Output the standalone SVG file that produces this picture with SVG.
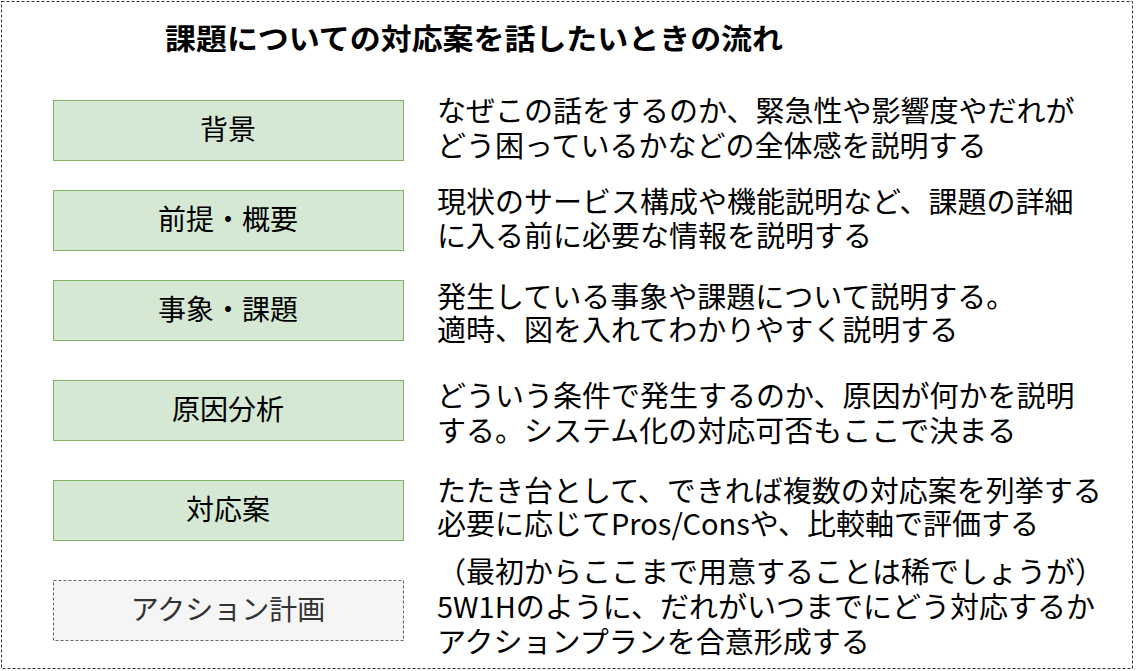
<svg xmlns="http://www.w3.org/2000/svg" width="1145" height="671" viewBox="0 0 1145 671">
<style>
text{font-family:"Noto Sans CJK JP","Noto Sans",sans-serif;font-size:28px;fill:#000}
.title{font-weight:bold;font-size:29px}
.lbl{text-anchor:middle}
.desc{font-size:29px}
.box{fill:#d5e8d4;stroke:#82b366;stroke-width:1}
.box2{fill:#f5f5f5;stroke:#666;stroke-width:1;stroke-dasharray:3,2}
.gray{fill:#333}
</style>
<rect x="0" y="0" width="1145" height="671" fill="#fff"/>
<rect x="1.5" y="1.5" width="1131" height="667" fill="none" stroke="#333" stroke-width="1" stroke-dasharray="3,2"/>
<text class="title" x="165" y="50" textLength="618" lengthAdjust="spacingAndGlyphs">課題についての対応案を話したいときの流れ</text>
<g id="connectors"></g>
<g id="n1"><rect class="box" x="53.5" y="100.5" width="350" height="60"/><text class="lbl" x="228" y="140">背景</text></g>
<g id="n2"><rect class="box" x="53.5" y="190.5" width="350" height="60"/><text class="lbl" x="228" y="230">前提・概要</text></g>
<g id="n3"><rect class="box" x="53.5" y="280.5" width="350" height="60"/><text class="lbl" x="228" y="320">事象・課題</text></g>
<g id="n4"><rect class="box" x="53.5" y="380.5" width="350" height="60"/><text class="lbl" x="228" y="420">原因分析</text></g>
<g id="n5"><rect class="box" x="53.5" y="480.5" width="350" height="60"/><text class="lbl" x="228" y="520">対応案</text></g>
<g id="n6"><rect class="box2" x="53.5" y="580.5" width="350" height="60"/><text class="lbl gray" x="228" y="620">アクション計画</text></g>
<g id="desc">
<text class="desc"><tspan x="437" y="122">なぜこの話をするのか、緊急性や影響度やだれが</tspan><tspan x="437" y="157">どう困っているかなどの全体感を説明する</tspan></text>
<text class="desc"><tspan x="437" y="213">現状のサービス構成や機能説明など、課題の詳細</tspan><tspan x="437" y="247">に入る前に必要な情報を説明する</tspan></text>
<text class="desc"><tspan x="437" y="308">発生している事象や課題について説明する。</tspan><tspan x="437" y="341">適時、図を入れてわかりやすく説明する</tspan></text>
<text class="desc"><tspan x="437" y="407">どういう条件で発生するのか、原因が何かを説明</tspan><tspan x="437" y="442">する。システム化の対応可否もここで決まる</tspan></text>
<text class="desc"><tspan x="437" y="502">たたき台として、できれば複数の対応案を列挙する</tspan><tspan x="437" y="535">必要に応じてPros/Consや、比較軸で評価する</tspan></text>
<text class="desc"><tspan x="437" y="583">（最初からここまで用意することは稀でしょうが）</tspan><tspan x="437" y="618">5W1Hのように、だれがいつまでにどう対応するか</tspan><tspan x="437" y="653">アクションプランを合意形成する</tspan></text>
</g>
</svg>
